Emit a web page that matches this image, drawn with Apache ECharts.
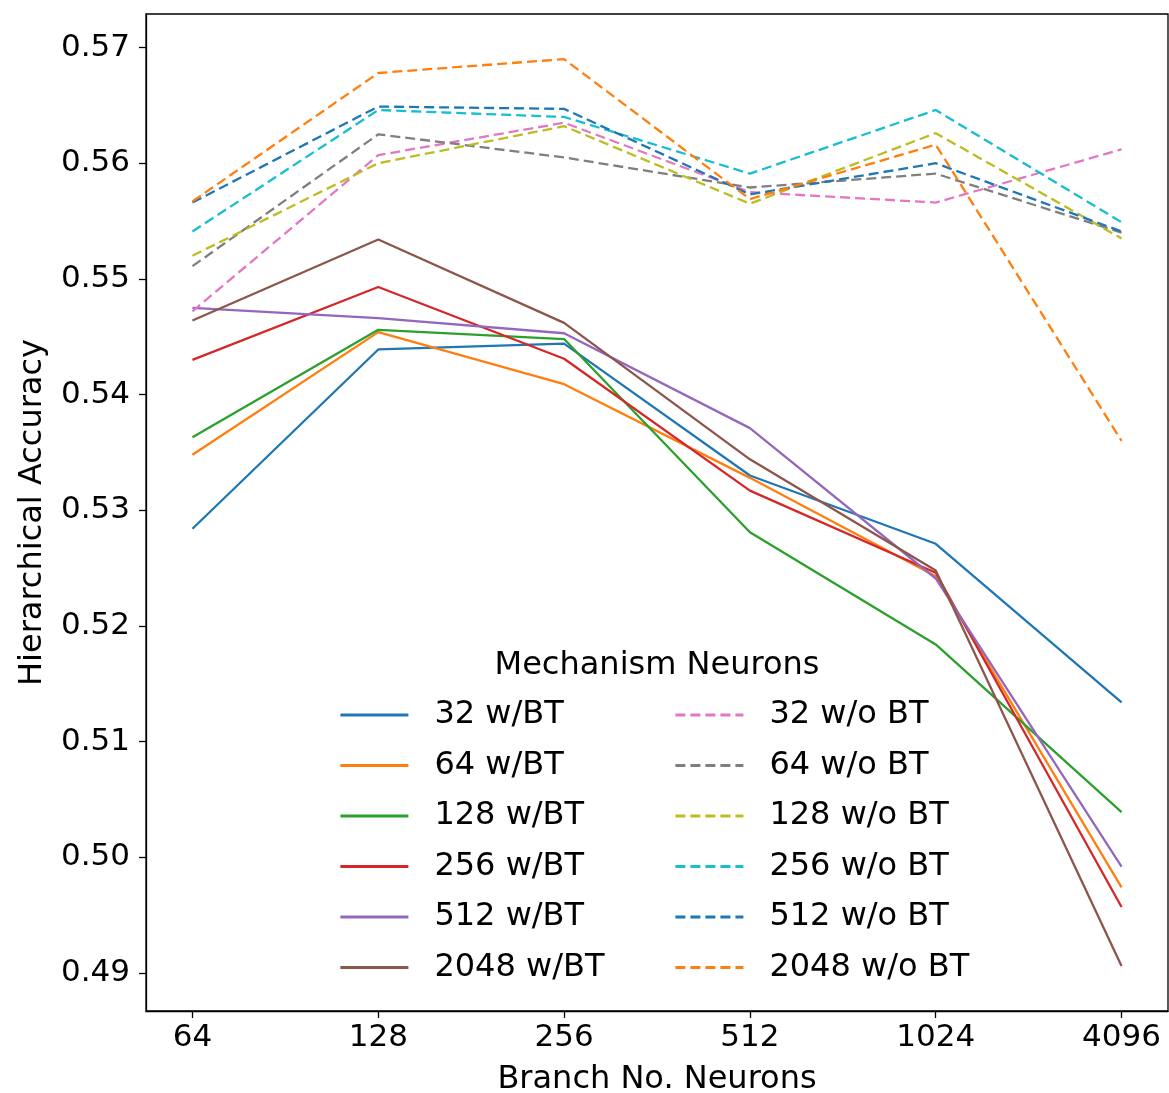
<!DOCTYPE html>
<html>
<head>
<meta charset="utf-8">
<script src="https://cdn.jsdelivr.net/npm/echarts@6/dist/echarts.min.js"></script>
<style>
html,body{margin:0;padding:0;background:#fff;}
#chart{width:1169px;height:1093px;}
</style>
</head>
<body>
<div id="chart"></div>
<script>
// Categories (x axis)
var categories = ['64', '128', '256', '512', '1024', '4096'];
var yTicks = [0.49, 0.50, 0.51, 0.52, 0.53, 0.54, 0.55, 0.56, 0.57];

// With BT (solid)
var w32   = [0.5284, 0.5439, 0.5444, 0.5330, 0.5271, 0.5134];
var w64   = [0.5348, 0.5454, 0.5409, 0.5328, 0.5243, 0.4974];
var w128  = [0.5363, 0.5456, 0.5448, 0.5281, 0.5184, 0.5039];
var w256  = [0.5430, 0.5493, 0.5431, 0.5317, 0.5246, 0.4957];
var w512  = [0.5475, 0.5466, 0.5453, 0.5371, 0.5241, 0.4992];
var w2048 = [0.5464, 0.5534, 0.5462, 0.5344, 0.5248, 0.4906];

// Without BT (dashed)
var o32   = [0.5472, 0.5607, 0.5635, 0.5575, 0.5566, 0.5612];
var o64   = [0.5511, 0.5625, 0.5605, 0.5579, 0.5591, 0.5540];
var o128  = [0.5520, 0.5600, 0.5632, 0.5565, 0.5626, 0.5535];
var o256  = [0.5541, 0.5646, 0.5640, 0.5591, 0.5646, 0.5549];
var o512  = [0.5566, 0.5649, 0.5647, 0.5573, 0.5600, 0.5541];
var o2048 = [0.5567, 0.5678, 0.5690, 0.5569, 0.5616, 0.5360];

var namesW = ['32 w/BT', '64 w/BT', '128 w/BT', '256 w/BT', '512 w/BT', '2048 w/BT'];
var namesO = ['32 w/o BT', '64 w/o BT', '128 w/o BT', '256 w/o BT', '512 w/o BT', '2048 w/o BT'];
var valuesW = [w32, w64, w128, w256, w512, w2048];
var valuesO = [o32, o64, o128, o256, o512, o2048];
var colorsW = ['#1f77b4', '#ff7f0e', '#2ca02c', '#d62728', '#9467bd', '#8c564b'];
var colorsO = ['#e377c2', '#7f7f7f', '#bcbd22', '#17becf', '#1f77b4', '#ff7f0e'];

var FONT = 'DejaVu Sans';

function mkSeries(name, vals, color, dashed) {
  return {
    name: name,
    type: 'line',
    symbol: 'none',
    data: vals.map(function (v, i) { return [i, v]; }),
    itemStyle: { color: color },
    lineStyle: { color: color, width: 2.3, type: dashed ? [10, 5] : 'solid' },
    emphasis: { disabled: true }
  };
}

var series = [];
namesW.forEach(function (n, i) { series.push(mkSeries(n, valuesW[i], colorsW[i], false)); });
namesO.forEach(function (n, i) { series.push(mkSeries(n, valuesO[i], colorsO[i], true)); });

var legendCommon = {
  orient: 'vertical',
  padding: 0,
  itemWidth: 68,
  itemHeight: 14,
  itemGap: 18.5,
  selectedMode: false,
  itemStyle: { opacity: 0, borderWidth: 0 },
  lineStyle: { width: 2.8, opacity: 1 },
  textStyle: { fontFamily: FONT, fontSize: 32, lineHeight: 31, color: '#000', padding: [0, 0, 0, 21] }
};

var chart = echarts.init(document.getElementById('chart'), null, { renderer: 'canvas' });
chart.setOption({
  animation: false,
  backgroundColor: '#fff',
  grid: {
    left: 146, right: 1, top: 14, bottom: 82,
    outerBoundsMode: 'none', containLabel: false,
    show: true, borderColor: '#000', borderWidth: 1.3, backgroundColor: 'transparent'
  },
  xAxis: {
    type: 'value',
    min: -0.25,
    max: 5.25,
    name: 'Branch No. Neurons',
    nameLocation: 'middle',
    nameGap: 53,
    nameTextStyle: { fontFamily: FONT, fontSize: 32, color: '#000' },
    axisLine: { show: true, onZero: false, lineStyle: { color: '#000', width: 1.3 } },
    axisTick: { show: true, length: 7, customValues: [0, 1, 2, 3, 4, 5], lineStyle: { color: '#000', width: 1.3 } },
    axisLabel: {
      customValues: [0, 1, 2, 3, 4, 5],
      formatter: function (v) { return categories[Math.round(v)]; },
      fontFamily: FONT, fontSize: 31, color: '#000', margin: 11
    },
    splitLine: { show: false }
  },
  yAxis: {
    type: 'value',
    min: 0.48671,
    max: 0.5729,
    name: 'Hierarchical Accuracy',
    nameLocation: 'middle',
    nameRotate: 90,
    nameGap: 97,
    nameTextStyle: { fontFamily: FONT, fontSize: 32, color: '#000' },
    axisLine: { show: true, onZero: false, lineStyle: { color: '#000', width: 1.3 } },
    axisTick: { show: true, length: 7, customValues: yTicks, lineStyle: { color: '#000', width: 1.3 } },
    axisLabel: {
      customValues: yTicks,
      formatter: function (v) { return v.toFixed(2); },
      fontFamily: FONT, fontSize: 31, color: '#000', margin: 16
    },
    splitLine: { show: false }
  },
  legend: [
    Object.assign({}, legendCommon, { data: namesW, left: 339, top: 699 }),
    Object.assign({}, legendCommon, { data: namesO, left: 674, top: 699 })
  ],
  graphic: [{
    type: 'text',
    x: 657,
    y: 666,
    style: { text: 'Mechanism Neurons', fontFamily: FONT, fontSize: 32, fill: '#000', align: 'center', verticalAlign: 'middle' }
  }],
  series: series
});
</script>
</body>
</html>
